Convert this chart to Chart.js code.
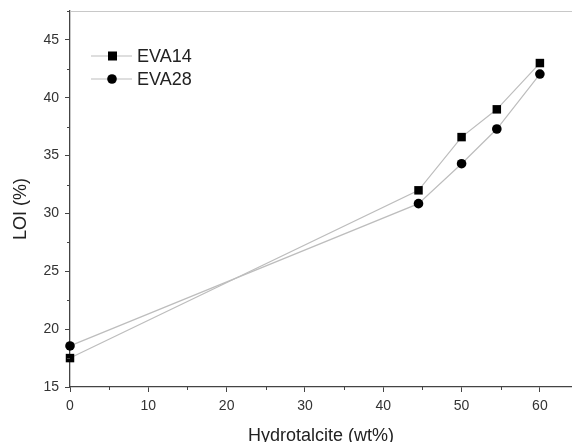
<!DOCTYPE html>
<html>
<head>
<meta charset="utf-8">
<script src="https://cdn.jsdelivr.net/npm/chart.js@4/dist/chart.umd.min.js"></script>
<style>
  html, body { margin: 0; padding: 0; background: #fff; }
  #wrap { width: 572px; height: 442px; }
</style>
</head>
<body>
<div id="wrap"><canvas id="chart" width="572" height="442"></canvas></div>
<script>
const x_values = [0, 44.5, 50, 54.5, 60];
const eva14_loi = [17.5, 32.0, 36.6, 39.0, 43.0];
const eva28_loi = [18.55, 30.85, 34.3, 37.3, 42.05];
const series_names = ["EVA14", "EVA28"];
const x_ticks = [0, 10, 20, 30, 40, 50, 60];
const y_ticks = [15, 20, 25, 30, 35, 40, 45];
const x_minor = [5, 15, 25, 35, 45, 55];
const y_minor = [17.5, 22.5, 27.5, 32.5, 37.5, 42.5, 47.5];

const textColor = "#333";
const lineColor = "#bdbdbd";
const fontFamily = "'Liberation Sans', Arial, sans-serif";

function toPoints(ys) {
  return x_values.map((x, i) => ({ x: x, y: ys[i] }));
}

// minor ticks, top frame line and the in-plot legend
const extras = {
  id: "extras",
  afterDraw(chart) {
    const ctx = chart.ctx;
    const area = chart.chartArea;
    const xs = chart.scales.x;
    const ys = chart.scales.y;
    ctx.save();
    ctx.strokeStyle = "#444";
    ctx.lineWidth = 1;
    ctx.beginPath();
    for (const v of x_minor) {
      const px = Math.round(xs.getPixelForValue(v)) + 0.5;
      ctx.moveTo(px, area.bottom);
      ctx.lineTo(px, area.bottom + 3);
    }
    for (const v of y_minor) {
      const py = Math.round(ys.getPixelForValue(v)) + 0.5;
      ctx.moveTo(area.left, py);
      ctx.lineTo(area.left - 3, py);
    }
    ctx.stroke();

    ctx.strokeStyle = "#c8c8c8";
    ctx.beginPath();
    ctx.moveTo(area.left, area.top + 0.5);
    ctx.lineTo(area.right, area.top + 0.5);
    ctx.stroke();

    // legend
    const rows = [56, 79];
    chart.data.datasets.forEach((ds, i) => {
      const y = rows[i];
      ctx.strokeStyle = lineColor;
      ctx.lineWidth = 1.2;
      ctx.beginPath();
      ctx.moveTo(91, y);
      ctx.lineTo(132, y);
      ctx.stroke();
      ctx.fillStyle = "#000";
      if (ds.pointStyle === "rect") {
        ctx.fillRect(108, y - 4.5, 9, 9);
      } else {
        ctx.beginPath();
        ctx.arc(112, y, 4.8, 0, Math.PI * 2);
        ctx.fill();
      }
      ctx.fillStyle = "#222";
      ctx.font = "18px " + fontFamily;
      ctx.textBaseline = "middle";
      ctx.fillText(ds.label, 137, y + 1);
    });
    ctx.restore();
  }
};

const config = {
  type: "scatter",
  data: {
    datasets: [
      {
        label: series_names[0],
        data: toPoints(eva14_loi),
        showLine: true,
        borderColor: lineColor,
        borderWidth: 1.2,
        pointStyle: "rect",
        pointRadius: 6,
        pointBackgroundColor: "#000",
        pointBorderColor: "#000",
        pointBorderWidth: 0,
        clip: false,
      },
      {
        label: series_names[1],
        data: toPoints(eva28_loi),
        showLine: true,
        borderColor: lineColor,
        borderWidth: 1.2,
        pointStyle: "circle",
        pointRadius: 4.8,
        pointBackgroundColor: "#000",
        pointBorderColor: "#000",
        pointBorderWidth: 0,
        clip: false,
      },
    ],
  },
  options: {
    responsive: false,
    animation: false,
    layout: { autoPadding: false, padding: { top: 11, right: 0, left: 0, bottom: 0 } },
    plugins: { legend: { display: false }, tooltip: { enabled: false } },
    scales: {
      x: {
        type: "linear",
        min: 0,
        max: 64.1,
        afterBuildTicks(scale) { scale.ticks = x_ticks.map((v) => ({ value: v })); },
        afterFit(scale) {
          scale.height = 55;
          scale.paddingRight = 0;
          scale.paddingLeft = 0;
        },
        border: { display: true, color: "#444", width: 1.3 },
        grid: { drawOnChartArea: false, drawTicks: true, tickLength: 5, color: "#444" },
        ticks: {
          color: textColor,
          padding: 6,
          autoSkip: false,
          maxRotation: 0,
          font: { family: fontFamily, size: 14 },
        },
        title: {
          display: true,
          text: "Hydrotalcite (wt%)",
          color: "#222",
          padding: { top: 0, bottom: -5 },
          font: { family: fontFamily, size: 18 },
        },
      },
      y: {
        min: 15,
        max: 47.5,
        afterBuildTicks(scale) { scale.ticks = y_ticks.map((v) => ({ value: v })); },
        afterFit(scale) {
          scale.width = 70;
          scale.paddingTop = 0;
          scale.paddingBottom = 0;
        },
        border: { display: true, color: "#444", width: 1.3 },
        grid: { drawOnChartArea: false, drawTicks: true, tickLength: 5, color: "#444" },
        ticks: {
          color: textColor,
          padding: 6,
          autoSkip: false,
          font: { family: fontFamily, size: 14 },
        },
        title: {
          display: true,
          // trailing spaces nudge the rotated title a little lower
          text: "LOI (%)    ",
          color: "#222",
          padding: { top: 10, bottom: 0 },
          font: { family: fontFamily, size: 18 },
        },
      },
    },
  },
  plugins: [extras],
};

new Chart(document.getElementById("chart"), config);
</script>
</body>
</html>
